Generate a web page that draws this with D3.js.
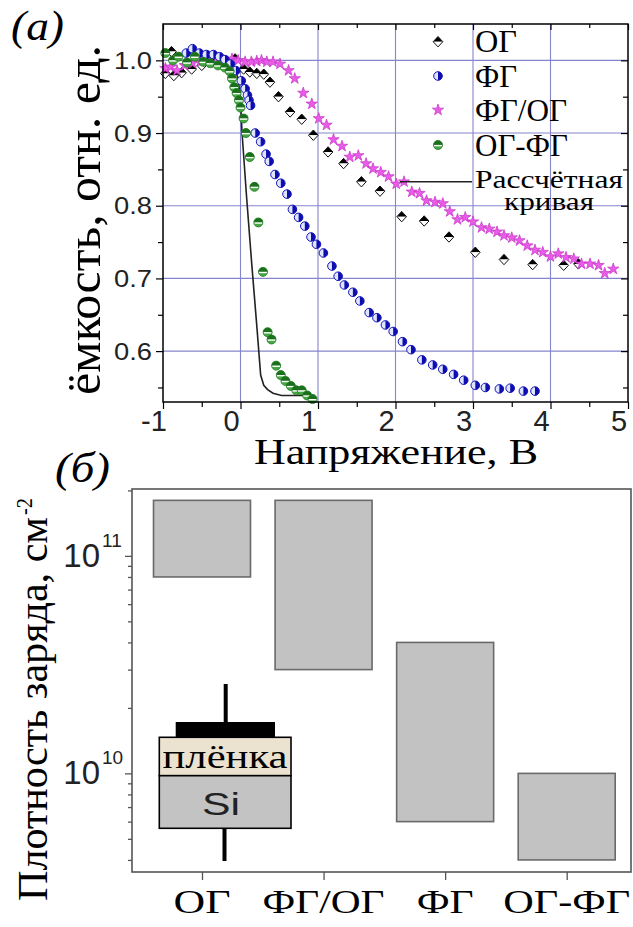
<!DOCTYPE html>
<html><head><meta charset="utf-8">
<script src="https://cdn.jsdelivr.net/npm/d3@7"></script>
<style>body{margin:0;background:#fff}svg{display:block}</style>
</head><body><svg id="fig" width="633" height="927"></svg>
<script>
// ---------- Panel (a): normalised capacitance vs bias ----------
const xTicksA = [-1, 0, 1, 2, 3, 4, 5];
const yTicksA = [0.6, 0.7, 0.8, 0.9, 1.0];
const yTickLabelsA = ["0.6", "0.7", "0.8", "0.9", "1.0"];

// [voltage, relative capacitance]
const seriesOG = [[-0.97,0.982],[-0.89,1.012],[-0.86,0.979],[-0.76,0.983],[-0.63,0.988],[-0.50,0.993],[-0.37,0.998],[-0.22,0.995],[-0.07,1.002],[0.04,0.988],[0.12,0.984],[0.21,0.982],[0.30,0.981],[0.38,0.970],[0.49,0.950],[0.64,0.929],[0.79,0.919],[0.94,0.897],[1.13,0.874],[1.33,0.858],[1.56,0.833],[1.80,0.820],[2.08,0.785],[2.37,0.779],[2.69,0.757],[3.03,0.736],[3.40,0.726],[3.77,0.719],[4.17,0.718],[4.36,0.720]];
const seriesFG = [[-0.70,1.010],[-0.62,1.016],[-0.53,1.010],[-0.44,1.008],[-0.35,1.008],[-0.27,1.005],[-0.20,1.001],[-0.13,0.995],[-0.06,0.986],[0.01,0.972],[0.06,0.961],[0.09,0.952],[0.11,0.945],[0.13,0.938],[0.19,0.900],[0.26,0.888],[0.33,0.871],[0.37,0.861],[0.445,0.843],[0.52,0.831],[0.60,0.816],[0.67,0.795],[0.75,0.784],[0.83,0.772],[0.91,0.757],[0.98,0.747],[1.07,0.735],[1.18,0.717],[1.26,0.703],[1.34,0.691],[1.45,0.681],[1.54,0.669],[1.66,0.653],[1.76,0.646],[1.87,0.636],[1.97,0.627],[2.09,0.613],[2.20,0.602],[2.34,0.588],[2.48,0.581],[2.61,0.575],[2.75,0.568],[2.88,0.560],[3.03,0.553],[3.16,0.550],[3.34,0.548],[3.48,0.549],[3.65,0.545],[3.80,0.545]];
const seriesFGOG = [[-0.97,0.989],[-0.90,0.991],[-0.82,0.986],[-0.72,0.993],[-0.62,0.996],[-0.52,0.998],[-0.42,1.000],[-0.32,0.997],[-0.22,0.999],[-0.11,1.002],[-0.03,1.000],[0.06,0.998],[0.14,0.998],[0.21,0.999],[0.27,1.000],[0.34,0.998],[0.42,0.998],[0.51,0.995],[0.62,0.986],[0.70,0.975],[0.81,0.955],[0.92,0.940],[1.01,0.920],[1.11,0.911],[1.20,0.891],[1.31,0.882],[1.41,0.867],[1.52,0.869],[1.62,0.858],[1.71,0.851],[1.81,0.846],[1.91,0.840],[2.01,0.830],[2.11,0.833],[2.21,0.819],[2.31,0.817],[2.40,0.807],[2.51,0.805],[2.61,0.803],[2.70,0.792],[2.80,0.781],[2.90,0.784],[3.00,0.778],[3.11,0.770],[3.21,0.768],[3.31,0.764],[3.40,0.759],[3.50,0.756],[3.60,0.752],[3.70,0.745],[3.80,0.739],[3.90,0.736],[4.00,0.730],[4.10,0.734],[4.20,0.729],[4.30,0.727],[4.40,0.720],[4.51,0.720],[4.62,0.718],[4.70,0.707],[4.81,0.713]];
const seriesOGFG = [[-0.97,1.010],[-0.87,1.000],[-0.80,1.005],[-0.69,0.997],[-0.59,1.005],[-0.48,0.998],[-0.39,0.996],[-0.29,0.993],[-0.20,0.990],[-0.14,0.985],[-0.11,0.975],[-0.08,0.963],[-0.05,0.955],[-0.02,0.945],[0.00,0.935],[0.04,0.920],[0.07,0.900],[0.12,0.867],[0.18,0.826],[0.23,0.777],[0.29,0.709],[0.35,0.626],[0.40,0.616],[0.46,0.580],[0.52,0.567],[0.58,0.559],[0.65,0.552],[0.72,0.546],[0.79,0.546],[0.86,0.539],[0.93,0.534]];
const calcCurve = [[-0.20,1.000],[-0.10,0.995],[-0.03,0.975],[0.00,0.945],[0.02,0.900],[0.08,0.810],[0.145,0.720],[0.21,0.635],[0.26,0.567],[0.30,0.553],[0.35,0.547],[0.42,0.542],[0.53,0.539],[0.96,0.539]];

const legendNames = ["ОГ", "ФГ", "ФГ/ОГ", "ОГ-ФГ"];
const legendWidths = [42, 42, 92, 93];

// ---------- Panel (б): charge-density ranges ----------
const categories = ["ОГ", "ФГ/ОГ", "ФГ", "ОГ-ФГ"];
const densityLow  = [8e10, 3e10, 6e9, 4e9];
const densityHigh = [1.8e11, 1.8e11, 4e10, 1e10];
const decadeTicks = [1e10, 1e11];
const decadeExp = ["10", "11"];

const svg = d3.select("#fig");
const serif = "'Liberation Serif','Times New Roman',serif";
const sans = "'Liberation Sans',Arial,sans-serif";

function label(parent, x, y, str, o) {
  const t = parent.append("text")
    .attr("transform", `translate(${x},${y})` + (o.rotate ? ` rotate(${o.rotate})` : ""))
    .attr("font-family", o.family || serif)
    .attr("font-size", o.size)
    .attr("text-anchor", o.anchor || "start")
    .attr("fill", o.fill || "#000")
    .text(str);
  if (o.italic) t.attr("font-style", "italic");
  if (o.len) t.attr("textLength", o.len).attr("lengthAdjust", "spacingAndGlyphs");
  return t;
}

// ===== Panel (a) =====
const A = { l: 163, r: 628, t: 24, b: 402 };
const xA = d3.scaleLinear().domain([-1, 5]).range([A.l, A.r]);
const yA = d3.scaleLinear().domain([0.53, 1.05]).range([A.b, A.t]);
const gA = svg.append("g");

// grid
const gridColor = "#8585cc";
gA.append("g").selectAll("line").data(xTicksA.filter(v => v > -1 && v < 5)).join("line")
  .attr("x1", d => xA(d)).attr("x2", d => xA(d)).attr("y1", A.t).attr("y2", A.b)
  .attr("stroke", gridColor).attr("stroke-width", 1.1);
gA.append("g").selectAll("line").data(yTicksA).join("line")
  .attr("y1", d => yA(d)).attr("y2", d => yA(d)).attr("x1", A.l).attr("x2", A.r)
  .attr("stroke", gridColor).attr("stroke-width", 1.1);

// axes ticks
const minorX = d3.range(-0.5, 5, 1);
const minorY = [0.55, 0.65, 0.75, 0.85, 0.95];
function styleAxis(g) { g.select(".domain").remove(); g.selectAll("line").attr("stroke", "#000").attr("stroke-width", 1.2); g.selectAll("text").remove(); }
gA.append("g").attr("transform", `translate(0,${A.b})`).call(d3.axisBottom(xA).tickValues(xTicksA).tickSize(7)).call(styleAxis);
gA.append("g").attr("transform", `translate(0,${A.b})`).call(d3.axisBottom(xA).tickValues(minorX).tickSize(5)).call(styleAxis);
gA.append("g").attr("transform", `translate(0,${A.t})`).call(d3.axisTop(xA).tickValues(xTicksA).tickSize(-6)).call(styleAxis);
gA.append("g").attr("transform", `translate(0,${A.t})`).call(d3.axisTop(xA).tickValues(minorX).tickSize(-4)).call(styleAxis);
gA.append("g").attr("transform", `translate(${A.l},0)`).call(d3.axisLeft(yA).tickValues(yTicksA).tickSize(7)).call(styleAxis);
gA.append("g").attr("transform", `translate(${A.l},0)`).call(d3.axisLeft(yA).tickValues(minorY).tickSize(5)).call(styleAxis);
gA.append("g").attr("transform", `translate(${A.r},0)`).call(d3.axisRight(yA).tickValues(yTicksA).tickSize(-7)).call(styleAxis);
gA.append("g").attr("transform", `translate(${A.r},0)`).call(d3.axisRight(yA).tickValues(minorY).tickSize(-5)).call(styleAxis);

// tick labels
xTicksA.forEach(v => label(gA, xA(v) - 9, 431, String(v), { family: sans, size: 29, anchor: "middle", fill: "#222" }));
yTicksA.forEach((v, i) => label(gA, 152, yA(v) + 8.5, yTickLabelsA[i], { family: sans, size: 24, anchor: "end", fill: "#222", len: 38 }));

// calculated curve
gA.append("path").datum(calcCurve)
  .attr("d", d3.line().x(d => xA(d[0])).y(d => yA(d[1])))
  .attr("fill", "none").attr("stroke", "#222").attr("stroke-width", 1.6);

// marker painters
function diamond(g) {
  const w = 4.8, h = 5.2;
  g.append("path").attr("d", `M${-w},0L0,${-h}L${w},0Z`).attr("fill", "#000");
  g.append("path").attr("d", `M${-w},0L0,${h}L${w},0Z`).attr("fill", "#fff");
  g.append("path").attr("d", `M${-w},0L0,${-h}L${w},0L0,${h}Z`).attr("fill", "none").attr("stroke", "#111").attr("stroke-width", 1);
}
function halfBlue(g) {
  const r = 4.3;
  g.append("circle").attr("r", r).attr("fill", "#dfe4ff");
  g.append("path").attr("d", `M0,${-r}A${r},${r} 0 0 1 0,${r}Z`).attr("fill", "#0d0db0");
  g.append("circle").attr("r", r).attr("fill", "none").attr("stroke", "#1515b8").attr("stroke-width", 1);
}
function halfGreen(g) {
  const r = 4.5;
  g.append("circle").attr("r", r).attr("fill", "#45a845");
  g.append("path").attr("d", `M${-r},0A${r},${r} 0 0 1 ${r},0Z`).attr("fill", "#1c6f1c");
  g.append("line").attr("x1", -r + 0.5).attr("x2", r - 0.5).attr("y1", 0.6).attr("y2", 0.6).attr("stroke", "#fff").attr("stroke-width", 1.4);
  g.append("circle").attr("r", r).attr("fill", "none").attr("stroke", "#1f7a1f").attr("stroke-width", 0.8);
}
const starPath = d3.symbol().type(d3.symbolStar).size(40)();
function star(g) {
  g.append("path").attr("d", starPath).attr("fill", "#e85ce8").attr("stroke", "#c530c5").attr("stroke-width", 0.7);
}

function plotSeries(data, painter) {
  const s = gA.append("g");
  data.forEach(d => { painter(s.append("g").attr("transform", `translate(${xA(d[0])},${yA(d[1])})`)); });
}
plotSeries(seriesOG, diamond);
plotSeries(seriesFGOG, star);
plotSeries(seriesFG, halfBlue);
plotSeries(seriesOGFG, halfGreen);

// frame
gA.append("rect").attr("x", A.l).attr("y", A.t).attr("width", A.r - A.l).attr("height", A.b - A.t)
  .attr("fill", "none").attr("stroke", "#000").attr("stroke-width", 1.5);

// legend
const legY = [41.7, 76, 110, 145];
const painters = [diamond, halfBlue, star, halfGreen];
legendNames.forEach((n, i) => {
  painters[i](gA.append("g").attr("transform", `translate(438,${legY[i]})`));
  label(gA, 475, legY[i] + 10.5, n, { size: 31, len: legendWidths[i] });
});
gA.append("line").attr("x1", 400).attr("x2", 472).attr("y1", 181.7).attr("y2", 181.7).attr("stroke", "#222").attr("stroke-width", 1.6);
label(gA, 475, 188, "Рассчётная", { size: 26, len: 148 });
label(gA, 549, 210, "кривая", { size: 25, anchor: "middle", len: 90 });

// titles
label(gA, 100, 220, "ёмкость, отн. ед.", { size: 48, anchor: "middle", rotate: -90, len: 350 });
label(gA, 254, 464, "Напряжение, В", { size: 35, len: 284 });
label(svg, 11, 40, "(a)", { size: 42, italic: true, len: 53 });

// ===== Panel (б) =====
const B = { l: 132, r: 631, t: 489, b: 872 };
const yB = d3.scaleLog().domain([3.52e9, 2.03e11]).range([B.b, B.t]);
const xB = d3.scalePoint().domain(categories).range([202, 566.7]);
const barW = 97;
const gB = svg.append("g");

// bars: range between low and high density
gB.append("g").selectAll("rect").data(categories).join("rect")
  .attr("x", d => xB(d) - barW / 2)
  .attr("width", barW)
  .attr("y", (d, i) => yB(densityHigh[i]))
  .attr("height", (d, i) => yB(densityLow[i]) - yB(densityHigh[i]))
  .attr("fill", "#c2c2c2").attr("stroke", "#6a6a6a").attr("stroke-width", 1.6);

// frame
gB.append("rect").attr("x", B.l).attr("y", B.t).attr("width", B.r - B.l).attr("height", B.b - B.t)
  .attr("fill", "none").attr("stroke", "#555").attr("stroke-width", 1.6);

// log ticks
const minorB = yB.ticks().filter(v => !decadeTicks.includes(v));
function styleAxisB(g) { g.select(".domain").remove(); g.selectAll("line").attr("stroke", "#555").attr("stroke-width", 1.3); g.selectAll("text").remove(); }
gB.append("g").attr("transform", `translate(${B.l},0)`).call(d3.axisLeft(yB).tickValues(decadeTicks).tickSize(7)).call(styleAxisB);
gB.append("g").attr("transform", `translate(${B.l},0)`).call(d3.axisLeft(yB).tickValues(minorB).tickSize(4)).call(styleAxisB);
gB.append("g").attr("transform", `translate(0,${B.b})`).call(d3.axisBottom(xB).tickSize(8)).call(styleAxisB);

decadeTicks.forEach((v, i) => {
  const y = yB(v);
  label(gB, 100, y + 11, "10", { family: sans, size: 33, anchor: "end", fill: "#222" });
  label(gB, 102, y - 9, decadeExp[i], { family: sans, size: 19, fill: "#222" });
});
const catWidths = [57, 122, 57, 127];
categories.forEach((c, i) => label(gB, xB(c), 913, c, { size: 34, anchor: "middle", len: catWidths[i] }));

// y title with superscript
label(gB, 47, 901, "Плотность заряда, см", { size: 42, rotate: -90, len: 384 });
label(gB, 32, 515, "-2", { size: 24, rotate: -90, len: 17 });
label(svg, 55, 482, "(б)", { size: 42, italic: true, len: 55 });

// inset: layered device sketch (electrode / film / Si)
const ins = gB.append("g");
ins.append("rect").attr("x", 223.7).attr("y", 684).attr("width", 4).attr("height", 40).attr("fill", "#000");
ins.append("rect").attr("x", 175.7).attr("y", 722).attr("width", 99.3).attr("height", 15.5).attr("fill", "#000");
ins.append("rect").attr("x", 159.3).attr("y", 737.3).attr("width", 131.7).attr("height", 38.4)
  .attr("fill", "#ebe3d0").attr("stroke", "#000").attr("stroke-width", 1.6);
ins.append("rect").attr("x", 159.3).attr("y", 775.7).attr("width", 131.7).attr("height", 52.6)
  .attr("fill", "#c3c3c3").attr("stroke", "#000").attr("stroke-width", 1.6);
ins.append("rect").attr("x", 222.5).attr("y", 828).attr("width", 4).attr("height", 33).attr("fill", "#000");
label(ins, 225, 768, "плёнка", { size: 34, anchor: "middle", len: 125 });
label(ins, 221, 815, "Si", { family: sans, size: 32, anchor: "middle", fill: "#222", len: 38 });
</script></body></html>
